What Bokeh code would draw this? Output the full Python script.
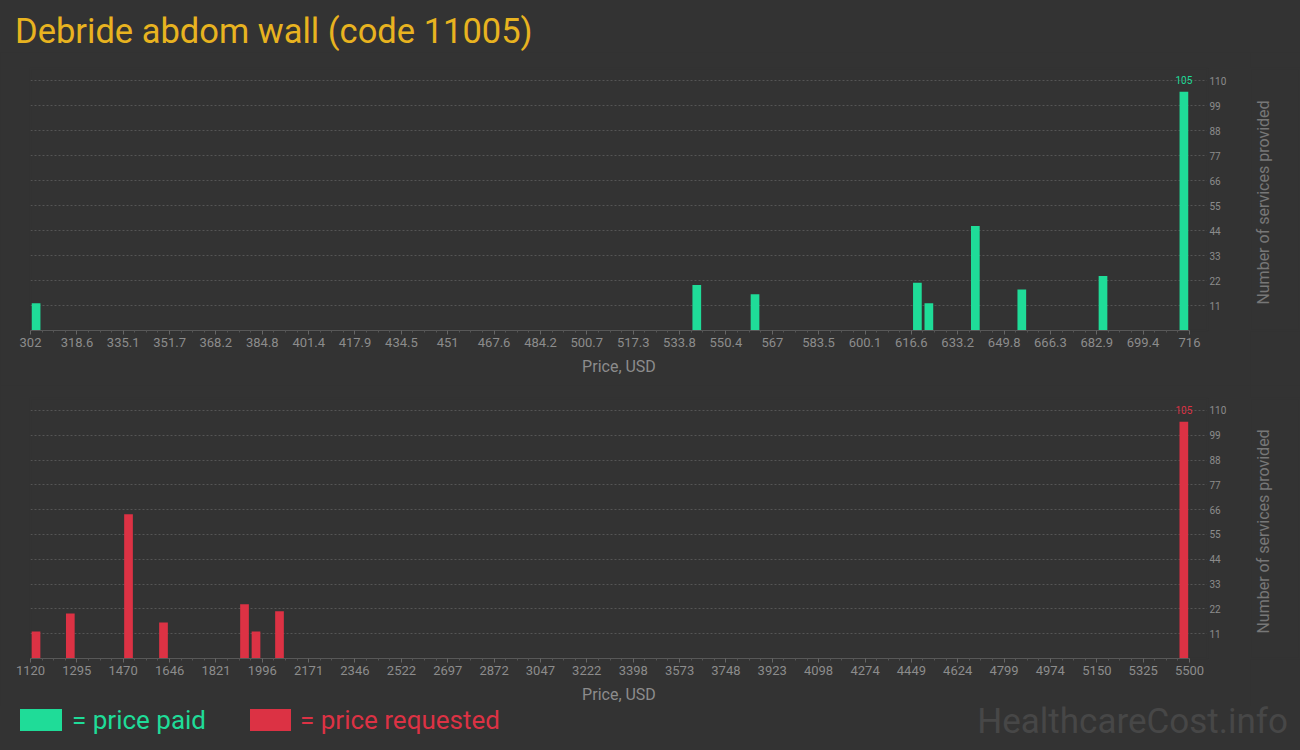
import math
from bokeh.plotting import figure
from bokeh.layouts import column, row
from bokeh.models import Range1d, FixedTicker, Div
from bokeh.core.properties import value
from bokeh.embed import file_html
from bokeh.resources import INLINE

# ---------------- data ----------------
TITLE = "Debride abdom wall (code 11005)"
X_LABEL = "Price, USD"
Y_LABEL = "Number of services provided"
WATERMARK = "HealthcareCost.info"
LEGEND_PAID = "= price paid"
LEGEND_REQ = "= price requested"

paid_price = [304.0, 540.0, 560.8, 618.8, 622.9, 639.5, 656.1, 685.1, 714.0]
paid_count = [12, 20, 16, 21, 12, 46, 18, 24, 105]

req_price = [1140.8, 1270.5, 1490.4, 1622.6, 1928.8, 1972.2, 2061.0, 5478.6]
req_count = [12, 20, 64, 16, 24, 12, 21, 105]

paid_ticks = ["302", "318.6", "335.1", "351.7", "368.2", "384.8", "401.4", "417.9",
              "434.5", "451", "467.6", "484.2", "500.7", "517.3", "533.8", "550.4",
              "567", "583.5", "600.1", "616.6", "633.2", "649.8", "666.3", "682.9",
              "699.4", "716"]
req_ticks = ["1120", "1295", "1470", "1646", "1821", "1996", "2171", "2346", "2522",
             "2697", "2872", "3047", "3222", "3398", "3573", "3748", "3923", "4098",
             "4274", "4449", "4624", "4799", "4974", "5150", "5325", "5500"]
count_ticks = [11, 22, 33, 44, 55, 66, 77, 88, 99, 110]

# ---------------- style ----------------
BG = "#333333"
GREEN = "#1fdc98"
RED = "#dc3244"
GOLD = "#e8b320"
TICK = "#8c8c8c"
GRID = "#555555"
AXIS = "#585858"
YLAB = "#777777"
WATER = "#474747"
FONT = "Roboto"

W = 1300
SIDE_W = 50        # strip holding the vertical axis title
CHART_W = W - SIDE_W
AXIS_W = 1159      # px between first and last x tick
FRAME_W = 1177     # plot frame width
FRAME_H = 262
PPY = 250 / 110.0  # px per count unit
BAR_PX = 8.7


def chart(prices, counts, tick_labels, color, height, top_b, bottom_b):
    tick_vals = [float(s) for s in tick_labels]
    first, last = tick_vals[0], tick_vals[-1]
    ppu = AXIS_W / (last - first)
    x_end = first + FRAME_W / ppu
    y_end = FRAME_H / PPY
    p = figure(width=CHART_W, height=height, x_range=Range1d(first, x_end),
               y_range=Range1d(0, y_end), output_backend="svg", toolbar_location=None,
               y_axis_location="right", min_border_left=30,
               min_border_right=CHART_W - 30 - FRAME_W,
               min_border_top=top_b, min_border_bottom=bottom_b,
               background_fill_color=BG, border_fill_color=BG,
               outline_line_color=BG, outline_line_width=2)
    p.vbar(x=prices, top=counts, width=BAR_PX / ppu, bottom=0,
           fill_color=color, line_color=None)

    # label on the tallest bar
    i = max(range(len(counts)), key=lambda k: counts[k])
    p.text(x=[prices[i]], y=[counts[i]], text=[str(counts[i])], text_color=color,
           text_font=value(FONT), text_font_size="10px", text_align="center",
           text_baseline="bottom", y_offset=-8)

    step = (last - first) / (len(tick_vals) - 1)
    minor = [first + (k + j / 4.0) * step for k in range(len(tick_vals) - 1) for j in (1, 2, 3)]
    xa = p.xaxis[0]
    xa.ticker = FixedTicker(ticks=tick_vals, minor_ticks=minor)
    xa.major_label_overrides = {v: s for v, s in zip(tick_vals, tick_labels)}
    xa.bounds = (first, last)
    xa.axis_line_color = AXIS
    xa.major_tick_line_color = "#666666"
    xa.minor_tick_line_color = "#555555"
    xa.major_tick_in = 0
    xa.major_tick_out = 4
    xa.minor_tick_in = 0
    xa.minor_tick_out = 2
    xa.major_label_standoff = 3
    xa.major_label_text_font = FONT
    xa.major_label_text_font_size = "13px"
    xa.major_label_text_color = TICK
    xa.axis_label = X_LABEL
    xa.axis_label_text_font = FONT
    xa.axis_label_text_font_size = "16px"
    xa.axis_label_text_font_style = "normal"
    xa.axis_label_text_color = TICK
    xa.axis_label_standoff = 7

    ya = p.yaxis[0]
    ya.ticker = FixedTicker(ticks=count_ticks)
    ya.axis_line_color = BG
    ya.axis_line_width = 2
    ya.major_tick_line_color = None
    ya.minor_tick_line_color = None
    ya.major_tick_out = 0
    ya.major_tick_in = 0
    ya.minor_tick_out = 0
    ya.minor_tick_in = 0
    ya.major_label_standoff = 2
    ya.major_label_text_font = FONT
    ya.major_label_text_font_size = "10px"
    ya.major_label_text_color = TICK

    p.xgrid.visible = False
    p.ygrid.grid_line_color = GRID
    p.ygrid.grid_line_dash = "2 2"
    return p


def side_label(height, top_b, bottom_b):
    s = figure(width=SIDE_W, height=height, x_range=Range1d(0, SIDE_W),
               y_range=Range1d(0, FRAME_H), output_backend="svg", toolbar_location=None,
               x_axis_location=None, y_axis_location=None,
               min_border_left=0, min_border_right=0,
               min_border_top=top_b, min_border_bottom=bottom_b,
               background_fill_color=BG, border_fill_color=BG,
               outline_line_color=BG, outline_line_width=2)
    s.grid.visible = False
    s.text(x=[13], y=[FRAME_H / 2 - 3], text=[Y_LABEL], angle=math.pi / 2,
           text_color=YLAB, text_font=value(FONT), text_font_size="16px",
           text_align="center", text_baseline="middle")
    return s


title_div = Div(
    text=f'<div style="padding:14px 0 0 15px;font-family:Roboto;font-size:34.5px;'
         f'line-height:35px;color:{GOLD};white-space:nowrap;">{TITLE}</div>',
    width=W, height=52,
    styles={"background-color": BG, "margin": "0", "padding": "0"})

p1 = chart(paid_price, paid_count, paid_ticks, GREEN, 333, 16, 55)
s1 = side_label(333, 16, 55)
p2 = chart(req_price, req_count, req_ticks, RED, 321, 13, 46)
s2 = side_label(321, 13, 46)

legend_html = (
    f'<div style="position:relative;width:{W}px;height:44px;font-family:Roboto;">'
    f'<div style="position:absolute;left:20px;top:3px;width:42px;height:22px;background:{GREEN};"></div>'
    f'<div style="position:absolute;left:72px;top:1px;font-size:26px;line-height:26px;'
    f'color:{GREEN};white-space:nowrap;">{LEGEND_PAID}</div>'
    f'<div style="position:absolute;left:250px;top:3px;width:41px;height:22px;background:{RED};"></div>'
    f'<div style="position:absolute;left:300px;top:1px;font-size:26px;line-height:26px;'
    f'color:{RED};white-space:nowrap;">{LEGEND_REQ}</div>'
    f'<div style="position:absolute;right:12px;top:1px;font-size:35px;line-height:30px;'
    f'color:{WATER};white-space:nowrap;">{WATERMARK}</div>'
    f'</div>')
legend_div = Div(text=legend_html, width=W, height=44,
                 styles={"background-color": BG, "margin": "0", "padding": "0"})

layout = column(title_div, row(p1, s1, spacing=0), row(p2, s2, spacing=0), legend_div,
                spacing=0, styles={"background-color": BG})
open("out.html", "w").write(file_html(layout, INLINE))
